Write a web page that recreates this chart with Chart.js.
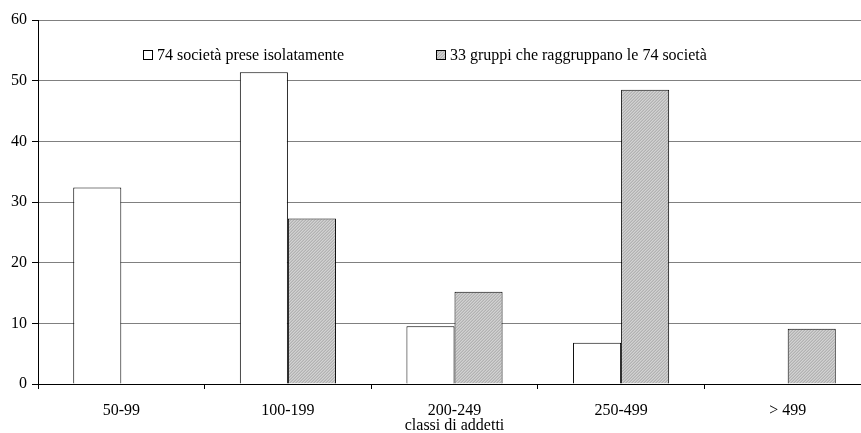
<!DOCTYPE html>
<html><head><meta charset="utf-8">
<script src="https://cdn.jsdelivr.net/npm/chart.js@4"></script>
<style>html,body{margin:0;padding:0;overflow:hidden;background:#fff;}#wrap{width:872px;height:433px;}</style>
</head><body>
<div id="wrap"><canvas id="c" width="872" height="433"></canvas></div>
<script>
const categories = ['50-99','100-199','200-249','250-499','> 499'];
const seriesLabels = ['74 società prese isolatamente','33 gruppi che raggruppano le 74 società'];
const societa = [32.4, 51.4, 9.5, 6.8, 0];
const gruppi = [0, 27.3, 15.2, 48.5, 9.1];
const yTicks = [0,10,20,30,40,50,60];
const xTitle = 'classi di addetti';

function makePattern(){
  const p = document.createElement('canvas'); p.width=3; p.height=3;
  const g = p.getContext('2d');
  g.fillStyle='#c2c2c2'; g.fillRect(0,0,3,3);
  g.fillStyle='#b2b2b2';
  for(let i=0;i<3;i++){ g.fillRect(i,(3-i)%3,1,1); }
  g.fillStyle='#d2d2d2';
  for(let i=0;i<3;i++){ g.fillRect(i,(4-i)%3,1,1); }
  return document.getElementById('c').getContext('2d').createPattern(p,'repeat');
}
const pat = makePattern();
const FONT = "'Liberation Serif','Times New Roman',serif";

const legendPlugin = {
  id:'inlegend',
  afterDraw(chart){
    const ctx = chart.ctx;
    ctx.save();
    ctx.font = '16px ' + FONT;
    ctx.textBaseline = 'middle';
    const items = [{x:143, fill:'#ffffff'},{x:436, fill:pat}];
    items.forEach((it,i)=>{
      ctx.fillStyle = it.fill;
      ctx.fillRect(it.x+0.5,50.5,9,9);
      ctx.strokeStyle='#000'; ctx.lineWidth=1;
      ctx.strokeRect(it.x+0.5,50.5,9,9);
      ctx.fillStyle='#000';
      ctx.fillText(seriesLabels[i], it.x+14, 55.5);
    });
    ctx.restore();
  }
};

new Chart(document.getElementById('c'), {
  type:'bar',
  data:{
    labels:categories,
    datasets:[
      {label:seriesLabels[0], data:societa, backgroundColor:'#ffffff', borderColor:'#000', borderWidth:1, categoryPercentage:0.577, barPercentage:1},
      {label:seriesLabels[1], data:gruppi, backgroundColor:pat, borderColor:'#000', borderWidth:1, categoryPercentage:0.577, barPercentage:1}
    ]
  },
  options:{
    responsive:false, animation:false,
    layout:{padding:{top:20,right:1,left:0,bottom:0}},
    plugins:{legend:{display:false}, tooltip:{enabled:false}},
    scales:{
      x:{
        offset:true,
        grid:{offset:true, drawOnChartArea:false, drawTicks:true, tickLength:5, color:'#000', tickColor:'#000'},
        border:{color:'#000', width:1},
        ticks:{font:{family:FONT,size:16}, color:'#000', padding:12, maxRotation:0},
        title:{display:true, text:xTitle, font:{family:FONT,size:16}, color:'#000', padding:{top:-4,bottom:-2}},
        afterFit(s){ s.height = 49; }
      },
      y:{
        min:0, max:60,
        afterBuildTicks(s){ s.ticks = yTicks.map(v=>({value:v})); },
        grid:{color:'#808080', lineWidth:1, tickLength:6, tickColor:'#000'},
        border:{color:'#000', width:1},
        ticks:{font:{family:FONT,size:16}, color:'#000', padding:5},
        afterFit(s){ s.width = 38; }
      }
    }
  },
  plugins:[legendPlugin]
});
</script>
</body></html>
